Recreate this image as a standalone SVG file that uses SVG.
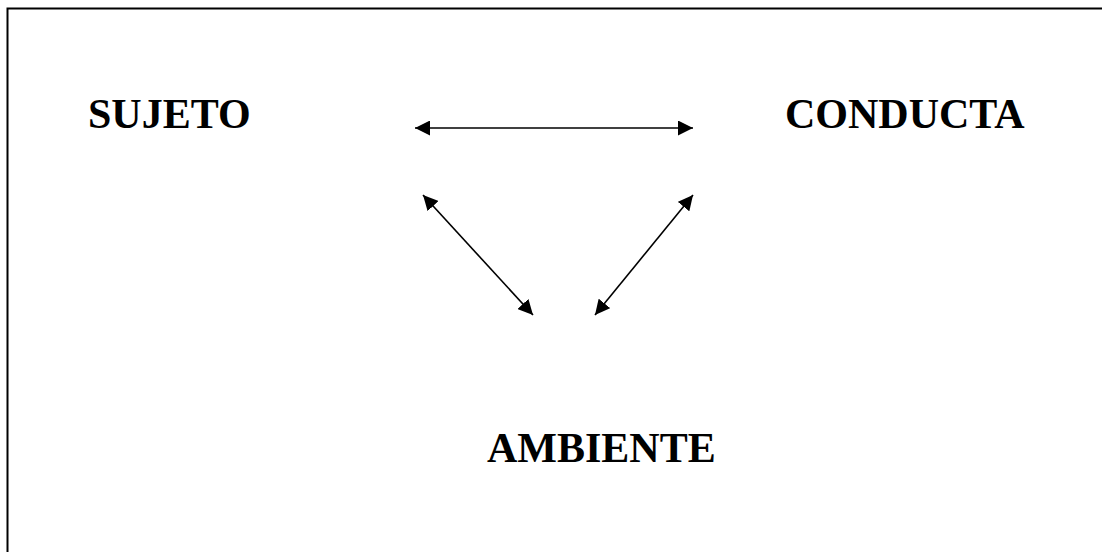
<svg xmlns="http://www.w3.org/2000/svg" width="1102" height="552" viewBox="0 0 1102 552">
<style>
.lbl{font-family:"Liberation Serif","Times New Roman",serif;font-weight:bold;font-size:42px;fill:#000}
.con{stroke:#000;stroke-width:1.6;fill:none}
</style>
<defs>
<marker id="ah" viewBox="0 0 10 10" refX="10" refY="5" markerWidth="15" markerHeight="15" markerUnits="userSpaceOnUse" orient="auto-start-reverse">
<path d="M0,0 L10,5 L0,10 Z" fill="#000"/>
</marker>
</defs>
<rect width="1102" height="552" fill="#fff"/>
<path d="M7.5,552 V8.5 H1102" stroke="#000" stroke-width="2" fill="none"/>
<g id="sujeto"><text class="lbl" x="88" y="128">SUJETO</text></g>
<g id="conducta"><text class="lbl" x="785" y="128">CONDUCTA</text></g>
<g id="ambiente"><text class="lbl" x="487" y="462">AMBIENTE</text></g>
<g id="connectors">
<line class="con" x1="415" y1="128" x2="693" y2="128" marker-start="url(#ah)" marker-end="url(#ah)"/>
<line class="con" x1="423" y1="195" x2="533" y2="315" marker-start="url(#ah)" marker-end="url(#ah)"/>
<line class="con" x1="693" y1="195" x2="595" y2="315" marker-start="url(#ah)" marker-end="url(#ah)"/>
</g>
</svg>
